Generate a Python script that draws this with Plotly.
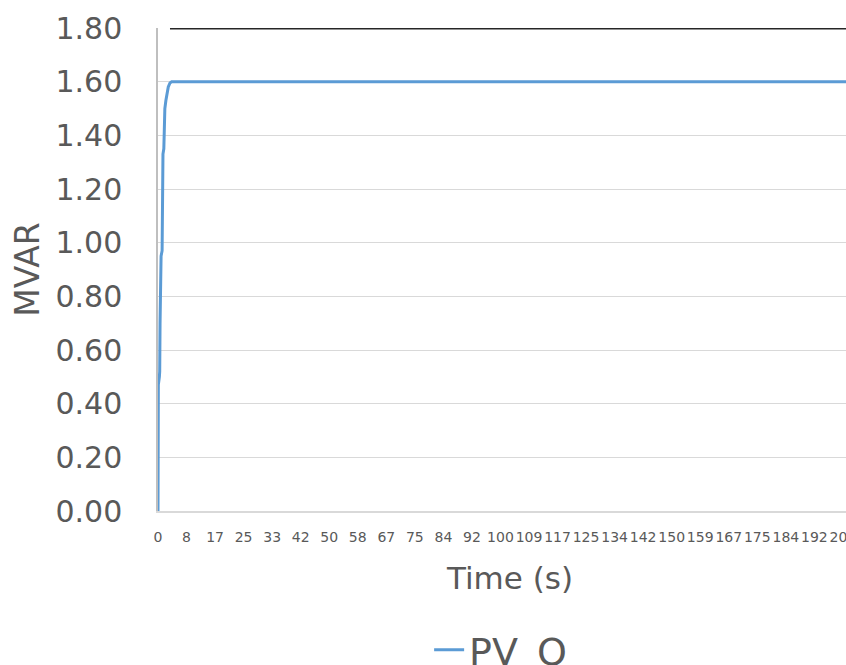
import plotly.graph_objects as go

# PV reactive power response (MVAR) vs time (s)
time_s = [0, 0.05, 0.1, 0.4, 0.5, 0.6, 0.8, 0.9, 1.2, 1.3, 1.45, 1.7, 1.8, 2.0,
          2.3, 2.6, 3.0, 3.5, 4.0, 201]
pv_q = [0.0, 0.30, 0.47, 0.50, 0.52, 0.70, 0.85, 0.95, 0.97, 1.20, 1.33, 1.35, 1.45, 1.50,
        1.53, 1.56, 1.58, 1.595, 1.60, 1.60]

# upper limit line (unlabelled black series)
limit_time = [3.5, 201]
limit_q = [1.80, 1.80]

# category-style tick labels on the time axis
tick_pos = [k * 200 / 24 for k in range(25)]
tick_text = ["0", "8", "17", "25", "33", "42", "50", "58", "67", "75", "84", "92",
             "100", "109", "117", "125", "134", "142", "150", "159", "167", "175",
             "184", "192", "200"]

y_ticks = [0.0, 0.2, 0.4, 0.6, 0.8, 1.0, 1.2, 1.4, 1.6, 1.8]

FONT = "DejaVu Sans"
GREY = "#595959"

fig = go.Figure()
fig.add_trace(go.Scatter(x=limit_time, y=limit_q, mode="lines",
                         line=dict(color="#262626", width=3),
                         showlegend=False, cliponaxis=False, hoverinfo="skip"))
fig.add_trace(go.Scatter(x=time_s, y=pv_q, mode="lines", name="PV_Q",
                         line=dict(color="#5b9bd5", width=3),
                         cliponaxis=False))

fig.add_annotation(text="Time (s)", xref="paper", yref="paper", x=0.5116, y=-0.1387,
                   xanchor="center", yanchor="middle", showarrow=False,
                   font=dict(size=31, family=FONT, color=GREY))

fig.update_layout(
    width=846, height=665,
    margin=dict(l=158, r=0, t=28, b=154, autoexpand=False),
    paper_bgcolor="white", plot_bgcolor="white",
    font=dict(family=FONT, color=GREY),
    showlegend=True,
    legend=dict(orientation="h", x=0.498, xanchor="center", y=-0.288, yanchor="middle",
                font=dict(size=38, family=FONT, color=GREY), bgcolor="rgba(0,0,0,0)"),
    xaxis=dict(
        range=[0, 200.9], tickmode="array", tickvals=tick_pos, ticktext=tick_text,
        tickangle=0, tickfont=dict(size=14, family=FONT, color=GREY),
        showgrid=False, zeroline=False, showline=True, linecolor="#d9d9d9", linewidth=2,
        ticks="", ticklabelstandoff=12, ticklabeloverflow="allow", automargin=False,
    ),
    yaxis=dict(
        range=[0, 1.8], tickmode="array", tickvals=y_ticks,
        tickformat=".2f", tickfont=dict(size=30, family=FONT, color=GREY),
        showgrid=True, gridcolor="#d9d9d9", gridwidth=1, zeroline=False,
        showline=True, linecolor="#bfbfbf", linewidth=1.5,
        ticks="", ticklabelstandoff=28, ticklabeloverflow="allow", automargin=False,
        title=dict(text="MVAR", font=dict(size=33, family=FONT, color=GREY), standoff=6),
    ),
)

# page: no body margin / scrollbars so the 846x665 figure fills the window
fig.write_html("out.html", config={"displayModeBar": False},
               post_script="document.body.style.margin='0';document.body.style.overflow='hidden';")
